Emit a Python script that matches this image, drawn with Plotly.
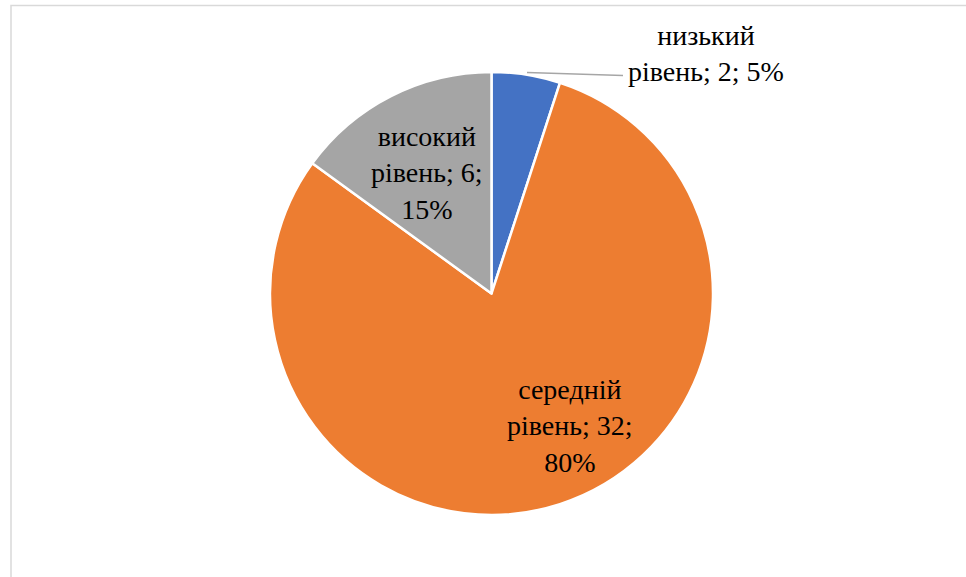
import plotly.graph_objects as go

W, H = 966, 577

labels = ["низький рівень", "середній рівень", "високий рівень"]
values = [2, 32, 6]
percents = ["5%", "80%", "15%"]
colors = ["#4472C4", "#ED7D31", "#A5A5A5"]
label_texts = [
    "низький<br>рівень; 2; 5%",
    "середній<br>рівень; 32;<br>80%",
    "високий<br>рівень; 6;<br>15%",
]

# pie geometry in pixels
cx, cy, r = 491.5, 293.5, 221.5

fig = go.Figure(go.Pie(
    labels=labels,
    values=values,
    sort=False,
    direction="clockwise",
    rotation=0,
    marker=dict(colors=colors, line=dict(color="white", width=2.5)),
    textinfo="none",
    hoverinfo="label+value+percent",
    showlegend=False,
    domain=dict(x=[(cx - r) / W, (cx + r) / W],
                y=[1 - (cy + r) / H, 1 - (cy - r) / H]),
))

def px(x):
    return x / W

def py(y):
    return 1 - y / H

font = dict(family="Times New Roman", size=28, color="#000000")
label_pos = [(706, 53), (570, 426), (427, 173)]
for t, (x, y) in zip(label_texts, label_pos):
    fig.add_annotation(x=px(x), y=py(y), xref="paper", yref="paper",
                       text=t, showarrow=False, font=font,
                       xanchor="center", yanchor="middle", align="center")

# leader line for small slice
fig.add_shape(type="line", xref="paper", yref="paper",
              x0=px(527), y0=py(72.5), x1=px(623), y1=py(75.5),
              line=dict(color="#A6A6A6", width=1.5))

# chart frame (partially cropped)
fig.add_shape(type="rect", xref="paper", yref="paper",
              x0=px(11), y0=-0.2, x1=1.2, y1=py(5.5),
              line=dict(color="#D9D9D9", width=1.5), fillcolor="rgba(0,0,0,0)")

fig.update_layout(
    width=W, height=H,
    margin=dict(l=0, r=0, t=0, b=0),
    paper_bgcolor="white",
    plot_bgcolor="white",
)

fig.write_html("out.html")
